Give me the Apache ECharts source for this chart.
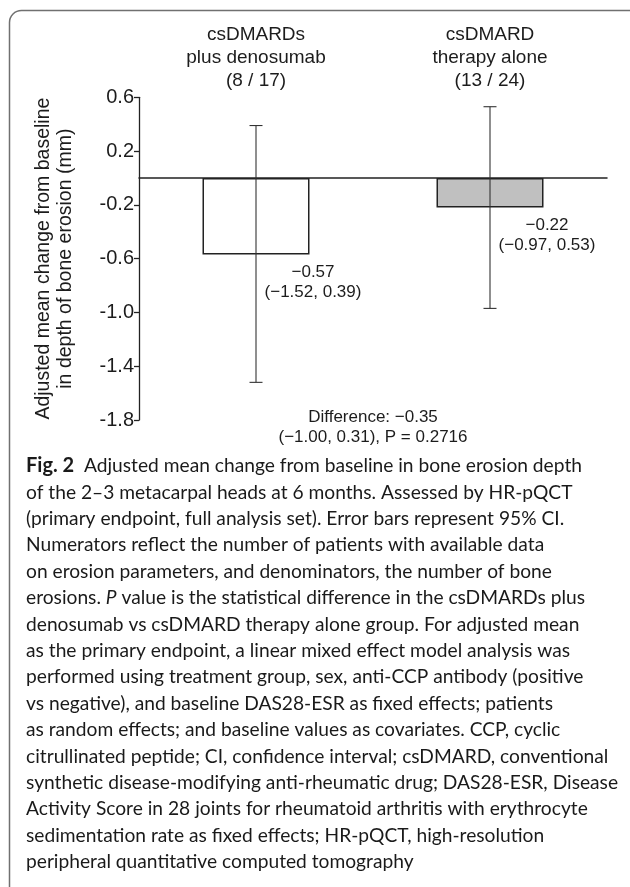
<!DOCTYPE html>
<html><head><meta charset="utf-8">
<script src="https://cdn.jsdelivr.net/npm/echarts@6/dist/echarts.min.js"></script>
<style>html,body{margin:0;padding:0;background:#fff}#c{width:630px;height:887px}</style>
</head><body><div id="c"></div>
<script>
// ---- data ----
const categories = ['csDMARDs\nplus denosumab\n(8 / 17)', 'csDMARD\ntherapy alone\n(13 / 24)'];
const means = [-0.57, -0.22];
const ciLower = [-1.52, -0.97];
const ciUpper = [0.39, 0.53];
const barColors = ['#ffffff', '#c0c0c0'];
const valueLabels = ['\u22120.57\n(\u22121.52, 0.39)', '\u22120.22\n(\u22120.97, 0.53)'];
const yTicks = [-1.8, -1.4, -1.0, -0.6, -0.2, 0.2, 0.6];
const yAxisName = 'Adjusted mean change from baseline\nin depth of bone erosion (mm)';
const diffText = 'Difference: \u22120.35\n(\u22121.00, 0.31), P = 0.2716';
const captionLabel = 'Fig. 2';
const captionLines = [
  '  Adjusted mean change from baseline in bone erosion depth',
  'of the 2\u20133 metacarpal heads at 6 months. Assessed by HR-pQCT',
  '(primary endpoint, full analysis set). Error bars represent 95% CI.',
  'Numerators reflect the number of patients with available data',
  'on erosion parameters, and denominators, the number of bone',
  'erosions. |P| value is the statistical difference in the csDMARDs plus',
  'denosumab vs csDMARD therapy alone group. For adjusted mean',
  'as the primary endpoint, a linear mixed effect model analysis was',
  'performed using treatment group, sex, anti-CCP antibody (positive',
  'vs negative), and baseline DAS28-ESR as fixed effects; patients',
  'as random effects; and baseline values as covariates. CCP, cyclic',
  'citrullinated peptide; CI, confidence interval; csDMARD, conventional',
  'synthetic disease-modifying anti-rheumatic drug; DAS28-ESR, Disease',
  'Activity Score in 28 joints for rheumatoid arthritis with erythrocyte',
  'sedimentation rate as fixed effects; HR-pQCT, high-resolution',
  'peripheral quantitative computed tomography'
];

// ---- build ----
const FONT = '"Liberation Sans", Arial, sans-serif';
const CAPFONT = 'Lato, "Noto Sans", sans-serif';
const TXT = '#1c1c1c';
const LINE = '#222';
const CAPSIZE = 19.2;

const capRich = captionLines.map((l, i) => {
  let s = l.split('|').map((seg, k) => k % 2 === 1 ? '{i|' + seg + '}' : seg).join('');
  if (i === 0) s = '{b|' + captionLabel + '}' + s;
  return s;
}).join('\n');

const chart = echarts.init(document.getElementById('c'), null, {renderer: 'canvas'});
chart.setOption({
  animation: false,
  backgroundColor: '#fff',
  grid: {left: 139, right: 23, top: 97.3, height: 322.7, containLabel: false},
  xAxis: [
    {type: 'category', data: categories, position: 'bottom',
     axisLine: {show: true, onZero: true, lineStyle: {color: LINE, width: 1.5}},
     axisTick: {show: false}, axisLabel: {show: false}, splitLine: {show: false}},
    {type: 'category', data: categories, position: 'top',
     axisLine: {show: false, onZero: false}, axisTick: {show: false}, splitLine: {show: false},
     axisLabel: {show: true, margin: 5, fontFamily: FONT, fontSize: 19, lineHeight: 23, color: TXT}}
  ],
  yAxis: {
    type: 'value', min: -1.8, max: 0.6, interval: 0.4,
    axisLine: {show: true, lineStyle: {color: LINE, width: 1.3}},
    axisTick: {show: true, length: 5, lineStyle: {color: LINE, width: 1.3}, customValues: yTicks},
    axisLabel: {fontFamily: FONT, fontSize: 20, color: TXT, margin: 5, customValues: yTicks,
      formatter: v => Number(v).toFixed(1)},
    splitLine: {show: false},
    name: yAxisName, nameLocation: 'middle', nameRotate: 90, nameGap: 84,
    nameTextStyle: {fontFamily: FONT, fontSize: 19.5, lineHeight: 22, color: TXT, align: 'center', verticalAlign: 'middle'}
  },
  series: [
    {type: 'bar', xAxisIndex: 0, barWidth: 107,
     data: means.map((m, i) => ({value: m, itemStyle: {color: barColors[i], borderColor: LINE, borderWidth: 1.5}}))},
    {type: 'custom', xAxisIndex: 0, z: 5,
     data: means.map((m, i) => [i, ciLower[i], ciUpper[i], m]),
     renderItem: (params, api) => {
       const i = api.value(0);
       const lo = api.coord([i, api.value(1)]);
       const hi = api.coord([i, api.value(2)]);
       const mid = api.coord([i, api.value(3)]);
       const cap = 6.5;
       const ls = {stroke: '#333', lineWidth: 1.1};
       return {type: 'group', children: [
         {type: 'line', shape: {x1: lo[0], y1: lo[1], x2: hi[0], y2: hi[1]}, style: ls},
         {type: 'line', shape: {x1: lo[0] - cap, y1: lo[1], x2: lo[0] + cap, y2: lo[1]}, style: ls},
         {type: 'line', shape: {x1: hi[0] - cap, y1: hi[1], x2: hi[0] + cap, y2: hi[1]}, style: ls},
         {type: 'text', x: mid[0] + 57, y: mid[1] + 8,
          style: {text: valueLabels[params.dataIndex], fontFamily: FONT, fontSize: 17, lineHeight: 20,
                  fill: TXT, align: 'center', verticalAlign: 'top'}}
       ]};
     }}
  ],
  graphic: [
    {type: 'rect', shape: {x: 9.5, y: 10.5, width: 800, height: 1000, r: 12},
     style: {fill: 'none', stroke: '#707070', lineWidth: 1.5}, silent: true},
    {type: 'text', x: 373, y: 407,
     style: {text: diffText, fontFamily: FONT, fontSize: 17, lineHeight: 20, fill: TXT, align: 'center', verticalAlign: 'top'}},
    {type: 'text', x: 26, y: 452.8,
     style: {text: capRich, fontFamily: CAPFONT, fontSize: CAPSIZE, lineHeight: 26.4, fill: '#1a1a1a', align: 'left', verticalAlign: 'top',
       rich: {b: {fontFamily: CAPFONT, fontWeight: 'bold', fontSize: 20, lineHeight: 26.4, fill: '#1a1a1a'},
              i: {fontFamily: CAPFONT, fontStyle: 'italic', fontSize: CAPSIZE, lineHeight: 26.4, fill: '#1a1a1a'}}}}
  ]
});
</script></body></html>
